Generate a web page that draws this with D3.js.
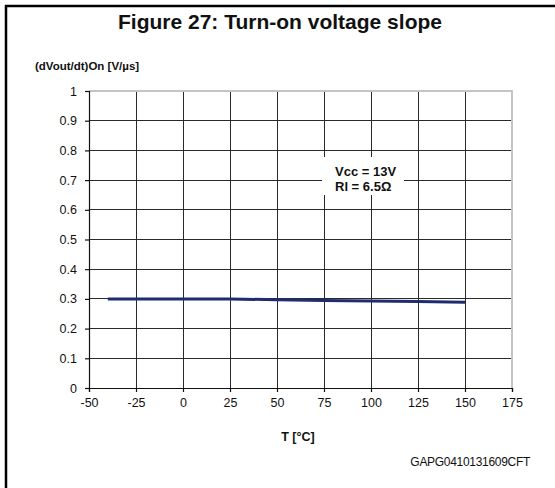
<!DOCTYPE html>
<meta charset="utf-8">
<script src="https://d3js.org/d3.v7.min.js"></script>
<style>
  body { margin: 0; background: #fff; }
  text { font-family: "Liberation Sans", Arial, sans-serif; fill: #111; }
</style>
<div id="chart"></div>
<script>
// values
var temps = [-40, 25, 50, 75, 100, 125, 150];
var slope = [0.300, 0.300, 0.297, 0.295, 0.293, 0.291, 0.289];
var xTicks = [-50, -25, 0, 25, 50, 75, 100, 125, 150, 175];
var yTicks = [0, 0.1, 0.2, 0.3, 0.4, 0.5, 0.6, 0.7, 0.8, 0.9, 1];

var W = 555, H = 488;
var plot = {left: 89, right: 512, top: 91, bottom: 388};

var svg = d3.select("#chart").append("svg")
    .attr("width", W)
    .attr("height", H);

// outer frame (only top and left edge visible)
svg.append("line").attr("x1", 5).attr("x2", W).attr("y1", 6).attr("y2", 6)
  .attr("stroke", "#000").attr("stroke-width", 2.5);
svg.append("line").attr("x1", 6).attr("x2", 6).attr("y1", 5).attr("y2", H)
  .attr("stroke", "#000").attr("stroke-width", 2.5);

// title
svg.append("text")
    .attr("x", 280).attr("y", 29)
    .attr("text-anchor", "middle")
    .style("font-size", "21px").style("font-weight", "bold")
    .text("Figure 27: Turn-on voltage slope");

var x = d3.scaleLinear().domain([-50, 175]).range([plot.left, plot.right]);
var y = d3.scaleLinear().domain([0, 1]).range([plot.bottom, plot.top]);

// grid
svg.append("g").selectAll("line").data(xTicks.slice(1, -1)).enter().append("line")
    .attr("x1", d => x(d)).attr("x2", d => x(d))
    .attr("y1", plot.top).attr("y2", plot.bottom)
    .attr("stroke", "#2a2a2a").attr("stroke-width", 1).attr("shape-rendering", "crispEdges");
svg.append("g").selectAll("line").data(yTicks.slice(1, -1)).enter().append("line")
    .attr("x1", plot.left).attr("x2", plot.right)
    .attr("y1", d => y(d)).attr("y2", d => y(d))
    .attr("stroke", "#2a2a2a").attr("stroke-width", 1).attr("shape-rendering", "crispEdges");

// light top and right border
svg.append("path")
    .attr("d", "M" + plot.left + "," + plot.top + "H" + plot.right + "V" + plot.bottom)
    .attr("fill", "none").attr("stroke", "#c4c4c4").attr("stroke-width", 2);

// axes
svg.append("g")
    .attr("transform", "translate(0," + plot.bottom + ")")
    .call(d3.axisBottom(x).tickValues(xTicks).tickSize(4).tickPadding(6)
      .tickFormat(d => String(d)));
svg.append("g")
    .attr("transform", "translate(" + plot.left + ",0)")
    .call(d3.axisLeft(y).tickValues(yTicks).tickSize(4).tickPadding(8)
      .tickFormat(d => d === 0 || d === 1 ? String(d) : d3.format(".1f")(d)));
svg.selectAll(".domain, .tick line").attr("stroke", "#111").attr("stroke-width", 1.2);
svg.selectAll(".tick text")
    .style("font-family", "'Liberation Sans', Arial, sans-serif")
    .style("font-size", "12.5px").attr("fill", "#111");

// annotation box
svg.append("rect").attr("x", 322).attr("y", 157).attr("width", 82).attr("height", 38).attr("fill", "#fff");
svg.append("text").attr("x", 335).attr("y", 176)
    .style("font-size", "13px").style("font-weight", "bold").text("Vcc = 13V");
svg.append("text").attr("x", 335).attr("y", 191)
    .style("font-size", "13px").style("font-weight", "bold").text("Rl = 6.5\u03A9");

// curve
var pts = temps.map((t, i) => [t, slope[i]]);
svg.append("path")
    .datum(pts)
    .attr("d", d3.line().x(d => x(d[0])).y(d => y(d[1])))
    .attr("fill", "none")
    .attr("stroke", "#1f2d6e")
    .attr("stroke-width", 3);

// axis titles
svg.append("text").attr("x", 35).attr("y", 70)
    .style("font-size", "11.5px").style("font-weight", "bold")
    .text("(dVout/dt)On [V/\u00B5s]");
svg.append("text").attr("x", 298).attr("y", 441)
    .attr("text-anchor", "middle")
    .style("font-size", "12.5px").style("font-weight", "bold")
    .text("T [\u00B0C]");

// figure code
svg.append("text").attr("x", 530).attr("y", 466)
    .attr("text-anchor", "end")
    .style("font-size", "12px").style("letter-spacing", "-0.3px")
    .text("GAPG0410131609CFT");
</script>
